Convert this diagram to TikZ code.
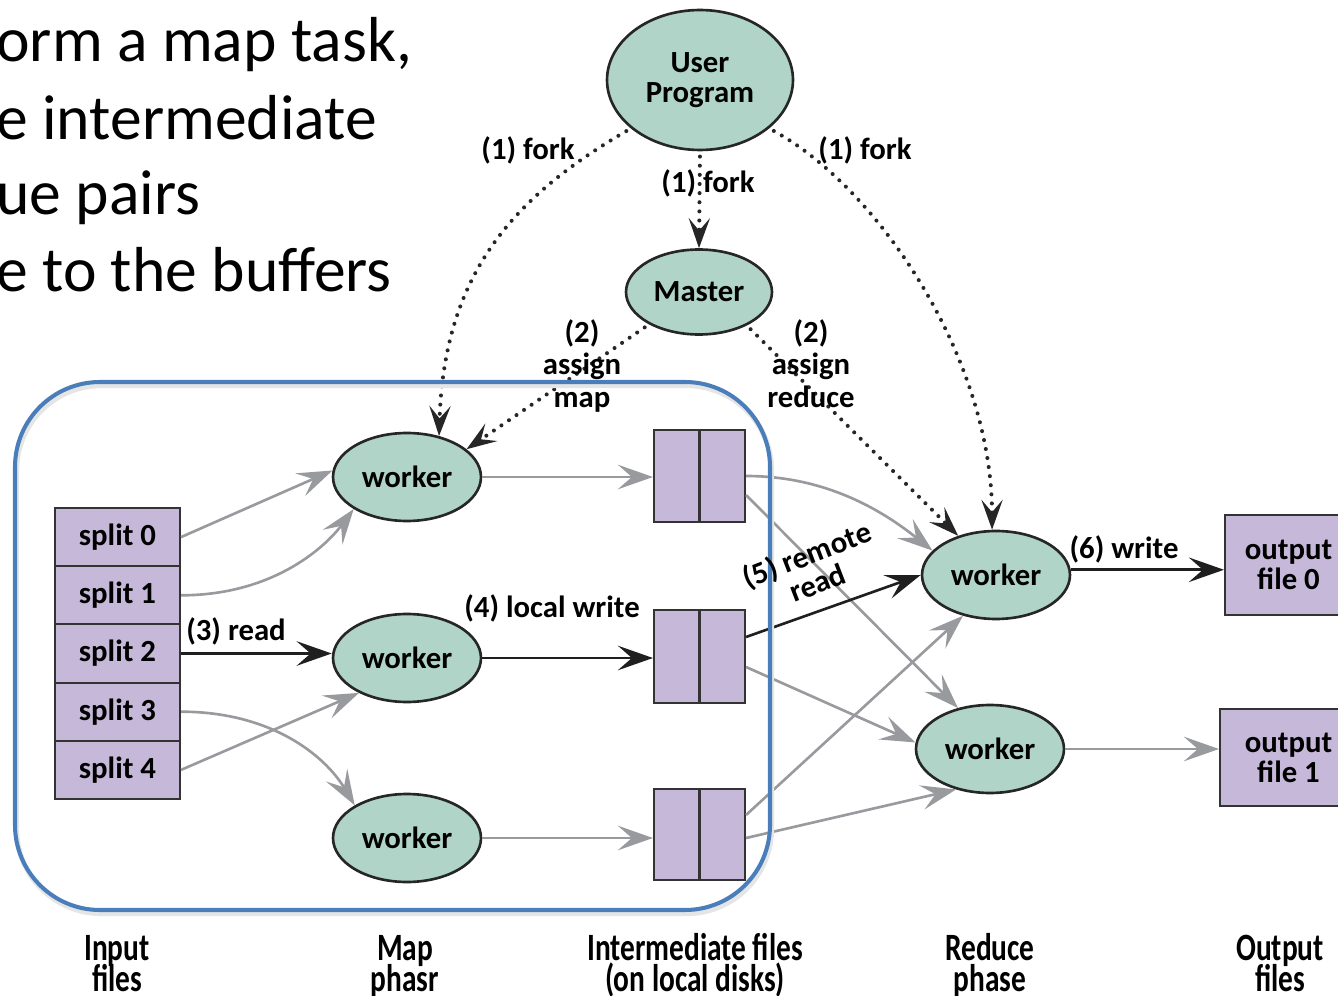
\documentclass[tikz,border=0pt]{standalone}
\usepackage{fontspec}
\setmainfont{Carlito}
\newfontfamily\dgmfont{Carlito}
\newfontfamily\capfont{Carlito}[FakeStretch=0.76]
\usetikzlibrary{shapes.geometric,arrows.meta,calc}
\definecolor{tealc}{RGB}{176,213,200}
\definecolor{lav}{RGB}{197,184,216}
\definecolor{grayc}{RGB}{152,154,158}
\definecolor{framec}{RGB}{74,126,187}
\newcommand\dlab{\dgmfont\bfseries\fontsize{17.5}{17}\selectfont}
\newcommand\clab{\capfont\bfseries\fontsize{22}{19}\selectfont}
\newcommand\tlab{\fontsize{36.2}{43}\selectfont}
\begin{document}
\begin{tikzpicture}[x=0.02cm,y=-0.02cm,
  ell/.style={ellipse,draw=black!85,line width=1.5pt,fill=tealc,inner sep=0pt,align=center,font=\dlab},
  wk/.style={ell,minimum width=2.96cm,minimum height=1.76cm},
  sp/.style={rectangle,draw=black!80,line width=1.2pt,fill=lav,minimum width=2.5cm,minimum height=1.164cm,inner sep=0pt,font=\dlab},
  fb/.style={rectangle,draw=black!80,line width=1.2pt,fill=lav,minimum width=1.82cm,inner sep=0pt},
  ob/.style={rectangle,draw=black!80,line width=1.2pt,fill=lav,inner sep=0pt,align=center,font=\dlab},
  garr/.style={draw=grayc,line width=1.5pt,-{Stealth[length=20pt,width=14pt,inset=8pt]}},
  barr/.style={draw=black!88,line width=1.5pt,-{Stealth[length=20pt,width=14pt,inset=8pt]}},
  darr/.style={draw=black!85,line width=2.3pt,line cap=round,dash pattern=on 0pt off 5.2pt,shorten <=3pt,-{Stealth[length=17pt,width=12pt,inset=7pt]}},
  lab/.style={font=\dlab,inner sep=0pt,anchor=base},
  captxt/.style={font=\clab,inner sep=0pt,anchor=base},
  slidetxt/.style={font=\tlab,inner sep=0pt,anchor=base west}]
\useasboundingbox (0,0) rectangle (1338,996);
\clip (0,0) rectangle (1338,996);

% top-left slide text
\node[slidetxt] (t1) at (-4,62) {orm a map task,};
\node[slidetxt] (t2) at (-4,140) {e intermediate};
\node[slidetxt] (t3) at (-4,215) {ue pairs};
\node[slidetxt] (t4) at (-4,292) {e to the buffers};

% ellipses
\node[ell,minimum width=3.72cm,minimum height=2.8cm] (up) at (700,80) {User\\Program};
\node[ell,minimum width=2.92cm,minimum height=1.7cm] (ms) at (699,292) {Master};
\node[wk] (w1) at (407,477) {worker};
\node[wk] (w2) at (407,658) {worker};
\node[wk] (w3) at (407,838) {worker};
\node[wk] (r1) at (996,575) {worker};
\node[wk] (r2) at (990,749) {worker};

% input splits
\node[sp] (s0) at (117.5,537.1) {split 0};
\node[sp] (s1) at (117.5,595.3) {split 1};
\node[sp] (s2) at (117.5,653.5) {split 2};
\node[sp] (s3) at (117.5,711.7) {split 3};
\node[sp] (s4) at (117.5,769.9) {split 4};

% intermediate files
\node[fb,minimum height=1.84cm] (f1) at (699.5,476) {};
\node[fb,minimum height=1.86cm] (f2) at (699.5,656.5) {};
\node[fb,minimum height=1.82cm] (f3) at (699.5,834.5) {};
\foreach \f in {f1,f2,f3}{\draw[black!80,line width=1.2pt] (\f.north) -- (\f.south);}

% output files
\node[ob,minimum width=2.54cm,minimum height=2cm] (o0) at (1288.5,565) {output\\file 0};
\node[ob,minimum width=2.74cm,minimum height=1.94cm] (o1) at (1288.5,757.5) {output\\file 1};

% dotted fork / assign arrows
\draw[darr] (up.south) -- (ms.north);
\draw[darr] (up.-145) .. controls ($(up.-145)+(-120,70)$) and ($(w1.52)+(5,-160)$) .. (w1.52);
\draw[darr] (up.-35) .. controls ($(up.-35)+(110,60)$) and ($(r1.95)+(0,-170)$) .. (r1.95);
\draw[darr] (ms.-147) -- (w1.25);
\draw[darr] (ms.-35) -- (r1.134);

% splits to map workers
\draw[garr] (s0.east) -- (w1.175);
\draw[garr] (s1.east) .. controls ($(s1.east)+(90,0)$) and ($(w1.211)+(-30,40)$) .. (w1.211);
\draw[barr] (s2.east) -- (s2.east -| w2.west);
\draw[garr] (s3.east) .. controls ($(s3.east)+(90,0)$) and ($(w3.148)+(-30,-50)$) .. (w3.148);
\draw[garr] (s4.east) -- (w2.216);

% map workers to intermediate files
\draw[garr] (w1.east) -- (w1.east -| f1.west);
\draw[barr] (w2.east) -- (w2.east -| f2.west);
\draw[garr] (w3.east) -- (w3.east -| f3.west);

% intermediate files to reduce workers
\draw[garr] (f1.east) .. controls ($(f1.east)+(80,0)$) and ($(r1.159)+(-50,-40)$) .. (r1.159);
\draw[garr] ($(f1.east)+(0,19)$) -- (r2.128);
\draw[barr] ($(f2.east)+(0,-19.5)$) -- (r1.180);
\draw[garr] ($(f2.east)+(0,10.5)$) -- (r2.175);
\draw[garr] ($(f3.east)+(0,-19.5)$) -- (r1.231);
\draw[garr] ($(f3.east)+(0,3.5)$) -- (r2.230);

% reduce workers to outputs
\draw[barr] (r1.4) -- (r1.4 -| o0.west);
\draw[garr] (r2.east) -- (r2.east -| o1.west);

% blue frame
\draw[black!10,line width=3pt,rounded corners=1.7cm] (16.5,385.5) rectangle (771.5,913.5);
\draw[framec,line width=2.3pt,rounded corners=1.7cm] (15,382) rectangle (770,910);

% labels
\node[lab] (l1a) at (528,160) {(1) fork};
\node[lab] (l1b) at (865,160) {(1) fork};
\node[lab] (l1c) at (708,193) {(1) fork};
\node[lab] (l2a) at (582,343) {(2)};
\node[lab] (l2b) at (582,375) {assign};
\node[lab] (l2c) at (582,408) {map};
\node[lab] (l2d) at (811,343) {(2)};
\node[lab] (l2e) at (811,375) {assign};
\node[lab] (l2f) at (811,408) {reduce};
\node[lab] (l3) at (236,640) {(3) read};
\node[lab] (l4) at (552,617) {(4) local write};
\node[font=\dlab,inner sep=0pt,align=center,rotate=21] (l5) at (812,568) {(5) remote\\read};
\node[lab] (l6) at (1124,558) {(6) write};

% phase captions
\node[captxt] (c1a) at (117,960) {Input};
\node[captxt] (c1b) at (117,991) {files};
\node[captxt] (c2a) at (405,960) {Map};
\node[captxt] (c2b) at (405,991) {phasr};
\node[captxt] (c3a) at (695,960) {Intermediate files};
\node[captxt] (c3b) at (695,991) {(on local disks)};
\node[captxt] (c4a) at (990,960) {Reduce};
\node[captxt] (c4b) at (990,991) {phase};
\node[captxt] (c5a) at (1280,960) {Output};
\node[captxt] (c5b) at (1280,991) {files};
\end{tikzpicture}
\end{document}
